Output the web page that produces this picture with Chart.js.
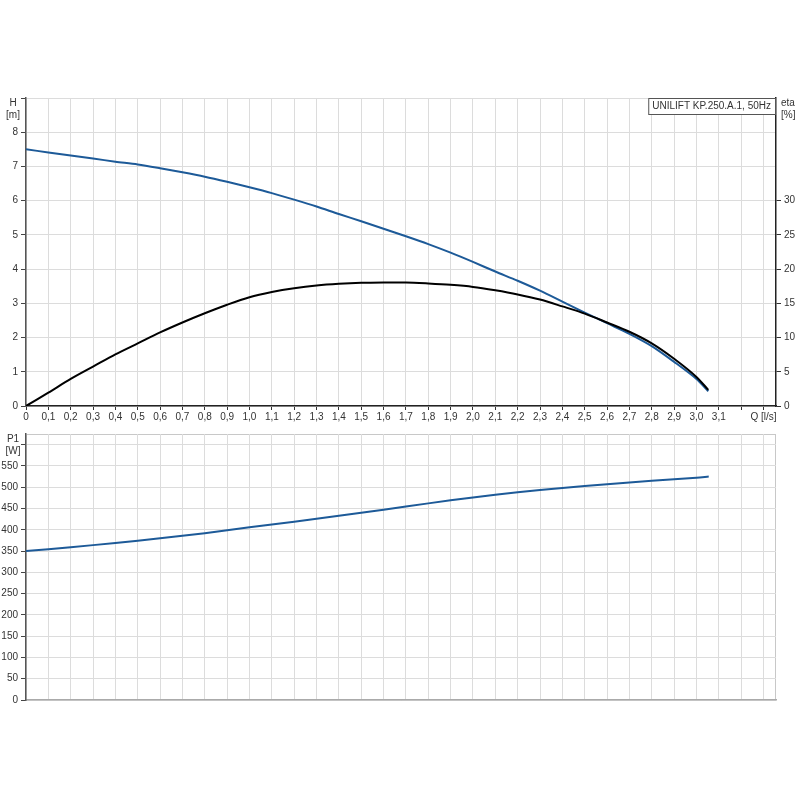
<!DOCTYPE html>
<html>
<head>
<meta charset="utf-8">
<script src="https://cdn.jsdelivr.net/npm/chart.js@4"></script>
<style>
  body { margin: 0; background: #fff; }
  .box { position: absolute; left: 0; width: 800px; }
</style>
</head>
<body>
<div class="box" style="top:80px;height:345px"><canvas id="qhChart"></canvas></div>
<div class="box" style="top:425px;height:300px"><canvas id="p1Chart"></canvas></div>
<script>
// flow Q [l/s] where H and eta were read
const qCurve = [0, 0.1, 0.2, 0.3, 0.4, 0.5, 0.6, 0.7, 0.8, 0.9, 1.0, 1.1, 1.2, 1.3, 1.4, 1.5,
  1.6, 1.7, 1.8, 1.9, 2.0, 2.1, 2.2, 2.3, 2.4, 2.5, 2.6, 2.7, 2.8, 2.9, 3.0, 3.053];
const headH = [7.50, 7.41, 7.32, 7.23, 7.14, 7.06, 6.95, 6.83, 6.70, 6.55, 6.39, 6.22, 6.03, 5.83, 5.61, 5.40,
  5.18, 4.96, 4.73, 4.48, 4.21, 3.93, 3.66, 3.37, 3.05, 2.73, 2.42, 2.11, 1.75, 1.29, 0.79, 0.43];
const etaPct = [0, 1.95, 3.95, 5.75, 7.55, 9.15, 10.75, 12.2, 13.55, 14.8, 15.9, 16.65, 17.2, 17.6, 17.85, 18.0,
  18.05, 18.05, 17.9, 17.7, 17.4, 16.9, 16.3, 15.55, 14.55, 13.5, 12.2, 10.85, 9.15, 6.9, 4.25, 2.35];

// power curve
const qPower = [0, 0.2, 0.4, 0.6, 0.8, 1.0, 1.2, 1.4, 1.6, 1.8, 2.0, 2.2, 2.4, 2.6, 2.8, 3.0, 3.055];
const powerP1 = [350, 359, 369, 380, 392, 406, 419, 433, 447, 462, 476, 488, 498, 507, 515, 522, 525];

// axis ticks
const qTicks = [0, 0.1, 0.2, 0.3, 0.4, 0.5, 0.6, 0.7, 0.8, 0.9, 1.0, 1.1, 1.2, 1.3, 1.4, 1.5, 1.6,
  1.7, 1.8, 1.9, 2.0, 2.1, 2.2, 2.3, 2.4, 2.5, 2.6, 2.7, 2.8, 2.9, 3.0, 3.1, 3.2, 3.3];
const qTickLabels = ["0", "0,1", "0,2", "0,3", "0,4", "0,5", "0,6", "0,7", "0,8", "0,9", "1,0", "1,1",
  "1,2", "1,3", "1,4", "1,5", "1,6", "1,7", "1,8", "1,9", "2,0", "2,1", "2,2", "2,3", "2,4", "2,5",
  "2,6", "2,7", "2,8", "2,9", "3,0", "3,1", "", "Q [l/s]"];
const hTicks = [0, 1, 2, 3, 4, 5, 6, 7, 8, 9];
const hTickLabels = ["0", "1", "2", "3", "4", "5", "6", "7", "8", ""];
const etaTicks = [0, 5, 10, 15, 20, 25, 30];
const pTicks = [0, 50, 100, 150, 200, 250, 300, 350, 400, 450, 500, 550, 600];
const pTickLabels = ["0", "50", "100", "150", "200", "250", "300", "350", "400", "450", "500", "550", ""];

const Q_MAX = 3.356;
const FONT = { family: "'Liberation Sans', Arial, sans-serif", size: 10 };
const BLUE = "#1d5a98";

Chart.defaults.font = FONT;
Chart.defaults.color = "#333";
Chart.defaults.animation = false;

const pts = (xs, ys) => xs.map((x, i) => ({ x: x, y: ys[i] }));
const setTicks = (list) => (scale) => { scale.ticks = list.map(v => ({ value: v })); };

// light frame round the plot area + axis titles + legend box
const decor = {
  id: "decor",
  beforeDraw(chart, args, opts) {
    const a = chart.chartArea, c = chart.ctx;
    c.save();
    c.strokeStyle = "#c8c8c8";
    c.lineWidth = 1;
    c.strokeRect(a.left + 0.5, a.top + 0.5, a.right - a.left - 1, a.bottom - a.top);
    c.restore();
  },
  afterDraw(chart, args, opts) {
    const a = chart.chartArea, c = chart.ctx;
    c.save();
    c.font = "10px 'Liberation Sans', Arial, sans-serif";
    c.fillStyle = "#333";
    c.textBaseline = "middle";
    if (opts.left) {
      c.textAlign = "center";
      c.fillText(opts.left[0], 13, a.top + 5);
      c.fillText(opts.left[1], 13, a.top + 17);
    }
    if (opts.right) {
      c.textAlign = "left";
      c.fillText(opts.right[0], a.right + 5, a.top + 5);
      c.fillText(opts.right[1], a.right + 5, a.top + 17);
    }
    if (opts.legend) {
      const w = c.measureText(opts.legend).width + 9;
      c.fillStyle = "#fff";
      c.fillRect(a.right - w, a.top, w, 16);
      c.strokeStyle = "#555";
      c.strokeRect(a.right - w + 0.5, a.top + 0.5, w - 1, 16);
      c.fillStyle = "#333";
      c.fillText(opts.legend, a.right - w + 4, a.top + 8.5);
    }
    c.restore();
  }
};

new Chart(document.getElementById("qhChart"), {
  type: "line",
  data: {
    datasets: [
      {
        label: "eta",
        data: pts(qCurve, etaPct),
        yAxisID: "eta",
        borderColor: "#000",
        borderWidth: 2,
        pointRadius: 0,
        tension: 0.3,
      },
      {
        label: "H",
        data: pts(qCurve, headH),
        yAxisID: "y",
        borderColor: BLUE,
        borderWidth: 2,
        pointRadius: 0,
        tension: 0.3,
      },
    ],
  },
  options: {
    responsive: true,
    maintainAspectRatio: false,
    layout: { padding: { top: 18, left: 0, right: 0, bottom: 0 } },
    plugins: {
      legend: { display: false },
      tooltip: { enabled: false },
      decor: { left: ["H", "[m]"], right: ["eta", "[%]"], legend: "UNILIFT KP.250.A.1, 50Hz" },
    },
    scales: {
      x: {
        type: "linear",
        min: 0,
        max: Q_MAX,
        afterBuildTicks: setTicks(qTicks),
        afterFit: (s) => { s.height = 19; },
        ticks: {
          maxRotation: 0,
          autoSkip: false,
          padding: 1,
          callback: (v, i) => qTickLabels[i],
        },
        grid: { color: "#dcdcdc", tickColor: "#333", tickLength: 4 },
        border: { color: "#222", width: 1.5 },
      },
      y: {
        type: "linear",
        min: 0,
        max: 9,
        afterBuildTicks: setTicks(hTicks),
        afterFit: (s) => { s.width = 26; },
        ticks: { padding: 3, callback: (v, i) => hTickLabels[i] },
        grid: { color: "#dcdcdc", tickColor: "#444", tickLength: 5 },
        border: { color: "#555", width: 1.5 },
      },
      eta: {
        type: "linear",
        position: "right",
        min: 0,
        max: 45,
        afterBuildTicks: setTicks(etaTicks),
        afterFit: (s) => { s.width = 24; },
        ticks: { padding: 3 },
        grid: { drawOnChartArea: false, tickColor: "#333", tickLength: 5 },
        border: { color: "#222", width: 1.5 },
      },
    },
  },
  plugins: [decor],
});

new Chart(document.getElementById("p1Chart"), {
  type: "line",
  data: {
    datasets: [
      {
        label: "P1",
        data: pts(qPower, powerP1),
        borderColor: BLUE,
        borderWidth: 2,
        pointRadius: 0,
        tension: 0.3,
      },
    ],
  },
  options: {
    responsive: true,
    maintainAspectRatio: false,
    layout: { padding: { top: 5, left: 0, right: 24, bottom: 0 } },
    plugins: {
      legend: { display: false },
      tooltip: { enabled: false },
      decor: { left: ["P1", "[W]"] },
    },
    scales: {
      x: {
        type: "linear",
        min: 0,
        max: Q_MAX,
        afterBuildTicks: setTicks(qTicks),
        afterFit: (s) => { s.height = 25; },
        ticks: { display: false },
        grid: { color: "#dcdcdc", drawTicks: false },
        border: { color: "#aaa", width: 1.5 },
      },
      y: {
        type: "linear",
        min: 0,
        max: 625,
        afterBuildTicks: setTicks(pTicks),
        afterFit: (s) => { s.width = 26; },
        ticks: { padding: 3, callback: (v, i) => pTickLabels[i] },
        grid: { color: "#dcdcdc", tickColor: "#444", tickLength: 5 },
        border: { color: "#555", width: 1.5 },
      },
    },
  },
  plugins: [decor],
});
</script>
</body>
</html>
